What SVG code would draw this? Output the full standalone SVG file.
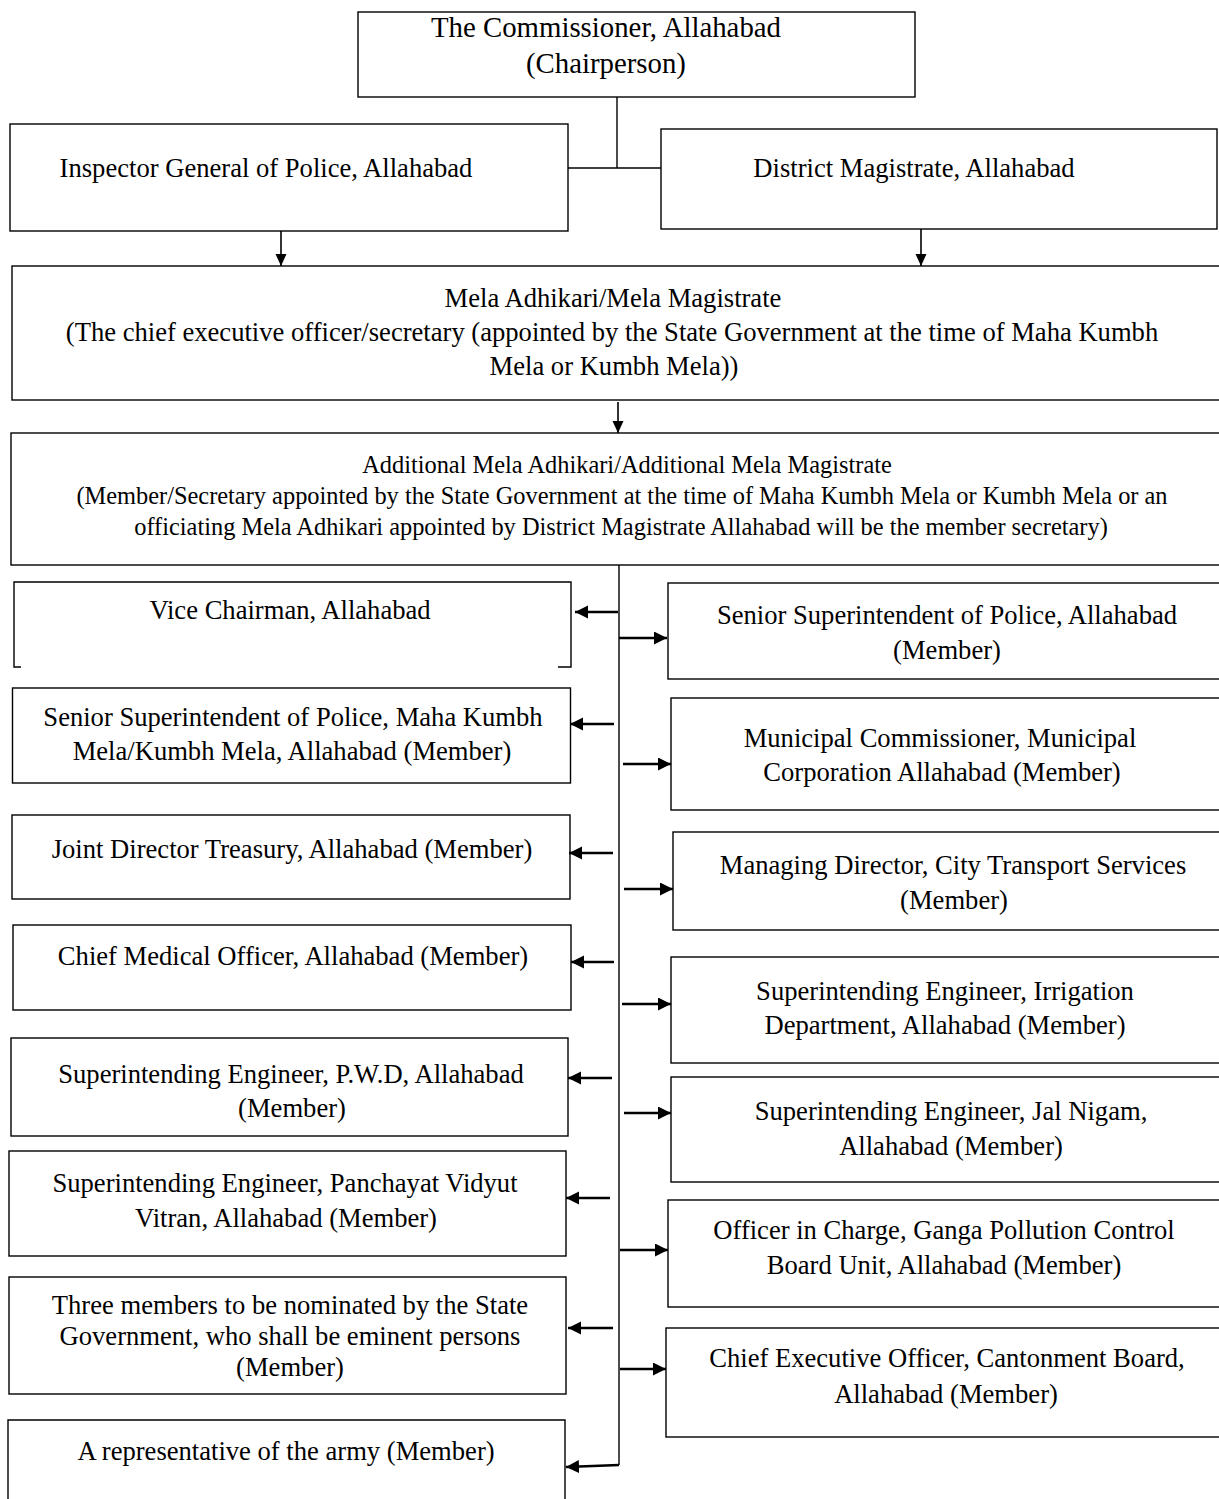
<svg xmlns="http://www.w3.org/2000/svg" width="1219" height="1499" viewBox="0 0 1219 1499">
<style>
.box{fill:none;stroke:#000;stroke-width:1.4}
.t{font-family:"Liberation Serif","Times New Roman",serif;font-size:26.6px;text-anchor:middle;fill:#000}
.big{font-size:28.8px}
.small{font-size:24.4px}
.ln{fill:none;stroke:#000;stroke-width:1.4}
.ar{fill:none;stroke:#000;stroke-width:2.6;marker-end:url(#ah)}
.av{fill:none;stroke:#000;stroke-width:1.6;marker-end:url(#av)}
</style>
<defs>
<marker id="ah" markerUnits="userSpaceOnUse" markerWidth="14" markerHeight="14" refX="13" refY="6.5" orient="auto">
<path d="M0,0 L13,6.5 L0,13 z" fill="#000"/>
</marker>
<marker id="av" markerUnits="userSpaceOnUse" markerWidth="13" markerHeight="13" refX="12" refY="5.5" orient="auto">
<path d="M0,0 L12,5.5 L0,11 z" fill="#000"/>
</marker>
</defs>
<rect width="1219" height="1499" fill="#fff"/>
<g id="connectors">
<path class="ln" d="M617,97 V168 M568,168 H661"/>
<path class="av" d="M281,231 V266"/>
<path class="av" d="M921,229 V266"/>
<path class="av" d="M618,402 V433"/>
<path class="ln" d="M619,565 V1465"/>
<path class="ar" d="M619,1465 L566,1467"/>
<path class="ar" d="M618,612 H575"/>
<path class="ar" d="M614,724 H570"/>
<path class="ar" d="M613,853 H569"/>
<path class="ar" d="M614,962 H571"/>
<path class="ar" d="M612,1078 H568"/>
<path class="ar" d="M610,1198 H566"/>
<path class="ar" d="M613,1328 H568"/>
<path class="ar" d="M619,638 H667"/>
<path class="ar" d="M623,764 H671"/>
<path class="ar" d="M624,889 H673"/>
<path class="ar" d="M622,1004 H671"/>
<path class="ar" d="M624,1113 H671"/>
<path class="ar" d="M620,1250 H668"/>
<path class="ar" d="M620,1369 H666"/>
</g>
<g id="commissioner">
<rect class="box" x="358" y="12" width="557" height="85"/>
<text class="t big" x="606" y="37">The Commissioner, Allahabad</text>
<text class="t big" x="606" y="73">(Chairperson)</text>
</g>
<g id="ig">
<rect class="box" x="10" y="124" width="558" height="107"/>
<text class="t" x="266" y="177">Inspector General of Police, Allahabad</text>
</g>
<g id="dm">
<rect class="box" x="661" y="129" width="556" height="100"/>
<text class="t" x="914" y="177">District Magistrate, Allahabad</text>
</g>
<g id="mela">
<rect class="box" x="12" y="266" width="1220" height="134"/>
<text class="t" x="613" y="307">Mela Adhikari/Mela Magistrate</text>
<text class="t" x="612" y="341">(The chief executive officer/secretary (appointed by the State Government at the time of Maha Kumbh</text>
<text class="t" x="614" y="375">Mela or Kumbh Mela))</text>
</g>
<g id="additional">
<rect class="box" x="11" y="433" width="1220" height="132"/>
<text class="t small" x="627" y="473">Additional Mela Adhikari/Additional Mela Magistrate</text>
<text class="t small" x="622" y="504">(Member/Secretary appointed by the State Government at the time of Maha Kumbh Mela or Kumbh Mela or an</text>
<text class="t small" x="621" y="535">officiating Mela Adhikari appointed by District Magistrate Allahabad will be the member secretary)</text>
</g>
<g id="vice">
<path class="box" d="M21,667 H14 V582 H571 V667 H558"/>
<text class="t" x="290" y="619">Vice Chairman, Allahabad</text>
</g>
<g id="ssp">
<rect class="box" x="668" y="583" width="560" height="96"/>
<text class="t" x="947" y="624">Senior Superintendent of Police, Allahabad</text>
<text class="t" x="947" y="659">(Member)</text>
</g>
<g id="sspmaha">
<rect class="box" x="12.5" y="688" width="558" height="95"/>
<text class="t" x="293" y="726">Senior Superintendent of Police, Maha Kumbh</text>
<text class="t" x="292" y="760">Mela/Kumbh Mela, Allahabad (Member)</text>
</g>
<g id="municipal">
<rect class="box" x="671" y="698" width="560" height="112"/>
<text class="t" x="940" y="747">Municipal Commissioner, Municipal</text>
<text class="t" x="942" y="781">Corporation Allahabad (Member)</text>
</g>
<g id="jdt">
<rect class="box" x="12" y="815" width="558" height="84"/>
<text class="t" x="292" y="858">Joint Director Treasury, Allahabad (Member)</text>
</g>
<g id="managing">
<rect class="box" x="673" y="832" width="560" height="98"/>
<text class="t" x="953" y="874">Managing Director, City Transport Services</text>
<text class="t" x="954" y="909">(Member)</text>
</g>
<g id="cmo">
<rect class="box" x="13" y="925" width="558" height="85"/>
<text class="t" x="293" y="965">Chief Medical Officer, Allahabad (Member)</text>
</g>
<g id="irrigation">
<rect class="box" x="671" y="957" width="560" height="106"/>
<text class="t" x="945" y="1000">Superintending Engineer, Irrigation</text>
<text class="t" x="945" y="1034">Department, Allahabad (Member)</text>
</g>
<g id="pwd">
<rect class="box" x="11" y="1038" width="557" height="98"/>
<text class="t" x="291" y="1083">Superintending Engineer, P.W.D, Allahabad</text>
<text class="t" x="292" y="1117">(Member)</text>
</g>
<g id="jal">
<rect class="box" x="671" y="1077" width="560" height="105"/>
<text class="t" x="951" y="1120">Superintending Engineer, Jal Nigam,</text>
<text class="t" x="951" y="1155">Allahabad (Member)</text>
</g>
<g id="panchayat">
<rect class="box" x="9" y="1151" width="557" height="105"/>
<text class="t" x="285" y="1192">Superintending Engineer, Panchayat Vidyut</text>
<text class="t" x="286" y="1227">Vitran, Allahabad (Member)</text>
</g>
<g id="ganga">
<rect class="box" x="668" y="1200" width="560" height="107"/>
<text class="t" x="944" y="1239">Officer in Charge, Ganga Pollution Control</text>
<text class="t" x="944" y="1274">Board Unit, Allahabad (Member)</text>
</g>
<g id="three">
<rect class="box" x="9" y="1277" width="557" height="117"/>
<text class="t" x="290" y="1314">Three members to be nominated by the State</text>
<text class="t" x="290" y="1345">Government, who shall be eminent persons</text>
<text class="t" x="290" y="1376">(Member)</text>
</g>
<g id="cantonment">
<rect class="box" x="666" y="1328" width="560" height="109"/>
<text class="t" x="947" y="1367">Chief Executive Officer, Cantonment Board,</text>
<text class="t" x="946" y="1403">Allahabad (Member)</text>
</g>
<g id="army">
<path class="box" d="M8,1505 V1420 H565 V1505"/>
<text class="t" x="286" y="1460">A representative of the army (Member)</text>
</g>
</svg>
